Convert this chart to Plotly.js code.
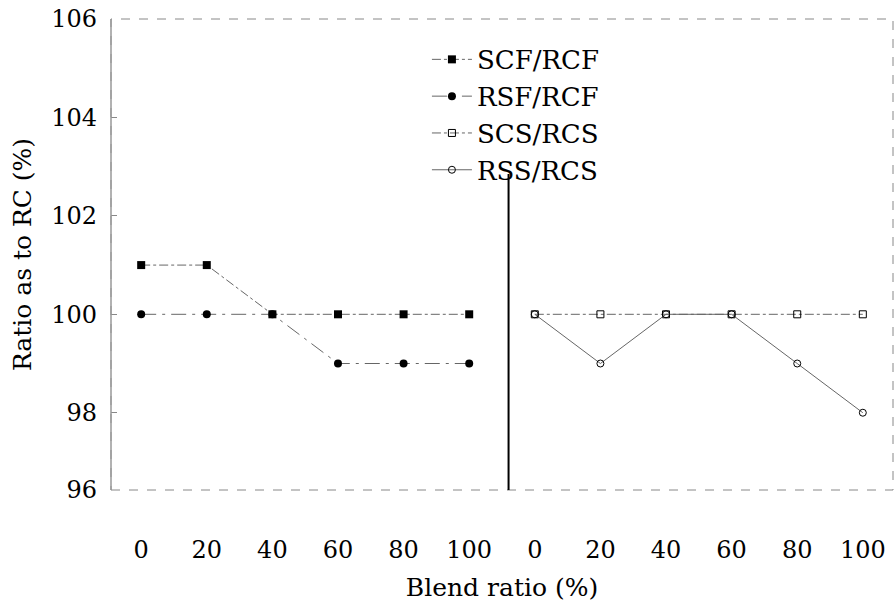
<!DOCTYPE html>
<html>
<head>
<meta charset="utf-8">
<script src="https://cdn.plot.ly/plotly-3.0.1.min.js"></script>
<style>html,body{margin:0;padding:0;background:#fff;}#chart{width:896px;height:605px;}</style>
</head>
<body>
<div id="chart"></div>
<script>
// Category labels along the x axis (two groups of blend ratios)
var xLabels = ["0","20","40","60","80","100","0","20","40","60","80","100"];
var leftIdx = [0,1,2,3,4,5];
var rightIdx = [6,7,8,9,10,11];

// Series values (%)
var scfRcf = [101,101,100,100,100,100];
var rsfRcf = [100,100,100,99,99,99];
var scsRcs = [100,100,100,100,100,100];
var rssRcs = [100,99,100,100,99,98];

// Y tick labels
var yTickVals = [96.43,98,100,102,104,106];
var yTickText = ["96","98","100","102","104","106"];

var dividerX = 5.6;
var dividerTop = 102.85;

var FONT = "DejaVu Serif";
var lineCol = "#666";

var traces = [
  {x:leftIdx, y:scfRcf, name:"SCF/RCF", mode:"lines+markers",
   line:{color:lineCol, width:1, dash:"dashdot"},
   marker:{symbol:"square", size:8, color:"#000"}},
  {x:leftIdx, y:rsfRcf, name:"RSF/RCF", mode:"lines+markers",
   line:{color:lineCol, width:1, dash:"longdashdot"},
   marker:{symbol:"circle", size:8, color:"#000"}},
  {x:rightIdx, y:scsRcs, name:"SCS/RCS", mode:"lines+markers",
   line:{color:lineCol, width:1, dash:"dashdot"},
   marker:{symbol:"square-open", size:7, color:"#000", line:{width:1}}},
  {x:rightIdx, y:rssRcs, name:"RSS/RCS", mode:"lines+markers",
   line:{color:lineCol, width:1, dash:"solid"},
   marker:{symbol:"circle-open", size:7, color:"#000", line:{width:1}}}
];

var layout = {
  width:896, height:605,
  margin:{l:111, r:3, t:19, b:115},
  paper_bgcolor:"#fff", plot_bgcolor:"#fff",
  font:{family:FONT, color:"#000"},
  showlegend:true,
  legend:{x:0.404, y:0.964, xanchor:"left", yanchor:"top",
          font:{family:FONT, size:26, color:"#000"},
          bgcolor:"rgba(0,0,0,0)", tracegroupgap:0, itemwidth:40},
  xaxis:{
    range:[-0.46, 11.46],
    tickmode:"array",
    tickvals:leftIdx.concat(rightIdx),
    ticktext:xLabels,
    ticks:"", showgrid:false, zeroline:false, showline:false,
    tickfont:{family:FONT, size:24, color:"#000"},
    ticklabelstandoff:43,
    title:{text:"Blend ratio (%)", font:{family:FONT, size:25, color:"#000"}, standoff:15}
  },
  yaxis:{
    range:[96.43, 106],
    tickmode:"array",
    tickvals:yTickVals,
    ticktext:yTickText,
    ticks:"inside", ticklen:6, tickcolor:"#888",
    showgrid:false, zeroline:false, showline:false,
    tickfont:{family:FONT, size:24, color:"#000"},
    ticklabelstandoff:13,
    title:{text:"Ratio as to RC (%)", font:{family:FONT, size:25, color:"#000"}, standoff:12}
  },
  shapes:[
    {type:"rect", xref:"paper", yref:"paper", x0:0, x1:1, y0:0, y1:1,
     line:{color:"#888", width:1, dash:"dash"}},
    {type:"line", xref:"paper", yref:"paper", x0:0, x1:0, y0:0, y1:1,
     line:{color:"#999", width:1.5}},
    {type:"line", xref:"x", yref:"y", x0:dividerX, x1:dividerX, y0:96.43, y1:dividerTop,
     line:{color:"#000", width:2}}
  ]
};

Plotly.newPlot("chart", traces, layout, {displayModeBar:false, staticPlot:true});
</script>
</body>
</html>
